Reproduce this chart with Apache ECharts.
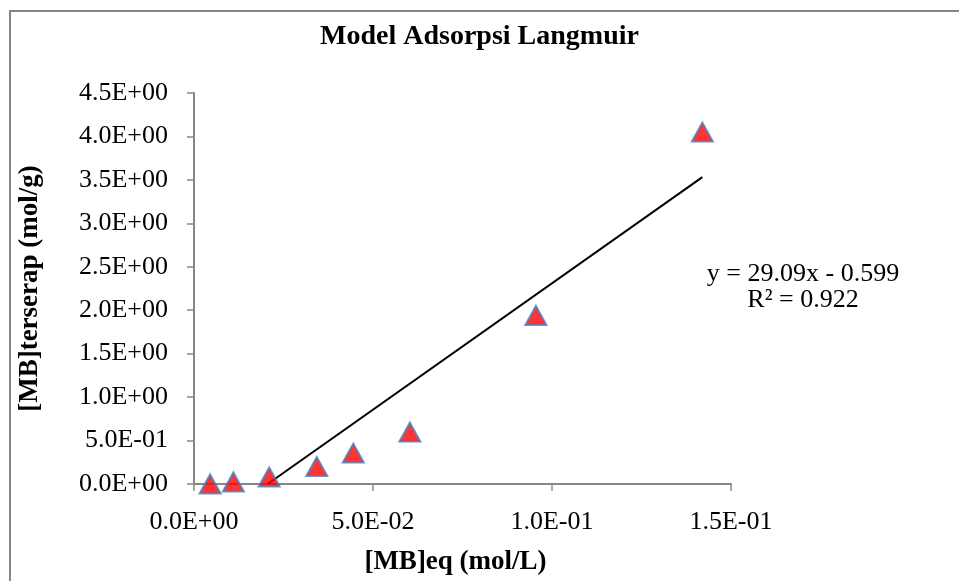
<!DOCTYPE html>
<html>
<head>
<meta charset="utf-8">
<script src="https://cdn.jsdelivr.net/npm/echarts@6/dist/echarts.min.js"></script>
<style>
html,body{margin:0;padding:0;background:#fff;}
#c{width:959px;height:581px;}
</style>
</head>
<body>
<div id="c"></div>
<script>
// Data
var xValues = [0.0045, 0.0110, 0.0210, 0.0343, 0.0445, 0.0603, 0.0955, 0.1420];
var yValues = [0.000, 0.023, 0.080, 0.200, 0.356, 0.597, 1.940, 4.050];
var trendSlope = [29.09];
var trendIntercept = [-0.599];
var equationText = ['y = 29.09x - 0.599', 'R\u00B2 = 0.922'];
var xTicks = [0, 0.05, 0.10, 0.15];
var yTicks = [0, 0.5, 1.0, 1.5, 2.0, 2.5, 3.0, 3.5, 4.0, 4.5];

var FONT = "'Liberation Serif','Times New Roman',serif";

function sci(v) {
  var s = Number(v).toExponential(1);
  var parts = s.split('e');
  var exp = parseInt(parts[1], 10);
  var sign = exp < 0 ? '-' : '+';
  var a = Math.abs(exp);
  return parts[0] + 'E' + sign + (a < 10 ? '0' + a : a);
}

var points = xValues.map(function (x, i) { return [x, yValues[i]]; });
var m = trendSlope[0], b = trendIntercept[0];
var xStart = -b / m;
var xEnd = Math.max.apply(null, xValues);
var trend = [[xStart, m * xStart + b], [xEnd, m * xEnd + b]];

var chart = echarts.init(document.getElementById('c'), null, {renderer: 'canvas'});
chart.setOption({
  backgroundColor: '#ffffff',
  animation: false,
  title: {
    text: 'Model Adsorpsi Langmuir',
    left: 'center',
    top: 18,
    textStyle: {fontFamily: FONT, fontWeight: 'bold', fontSize: 28, color: '#000'}
  },
  grid: {left: 194, top: 93, width: 537, height: 392},
  xAxis: {
    type: 'value',
    min: xTicks[0],
    max: xTicks[xTicks.length - 1],
    interval: xTicks[1] - xTicks[0],
    name: '[MB]eq (mol/L)',
    nameLocation: 'middle',
    nameGap: 65,
    nameTextStyle: {fontFamily: FONT, fontWeight: 'bold', fontSize: 27, color: '#000', padding: [0, 14, 0, 0]},
    axisLine: {show: true, onZero: false, lineStyle: {color: '#868686', width: 2}},
    axisTick: {show: true, length: 7, lineStyle: {color: '#868686', width: 1.5}},
    splitLine: {show: false},
    axisLabel: {
      fontFamily: FONT, fontSize: 26, color: '#000', margin: 25,
      formatter: function (v) { return sci(v); }
    }
  },
  yAxis: {
    type: 'value',
    min: yTicks[0],
    max: yTicks[yTicks.length - 1],
    interval: yTicks[1] - yTicks[0],
    name: '[MB]terserap (mol/g)',
    nameLocation: 'middle',
    nameRotate: 90,
    nameGap: 150,
    nameTextStyle: {fontFamily: FONT, fontWeight: 'bold', fontSize: 27, color: '#000'},
    axisLine: {show: true, lineStyle: {color: '#868686', width: 2}},
    axisTick: {show: true, length: 7, lineStyle: {color: '#868686', width: 1.5}},
    splitLine: {show: false},
    axisLabel: {
      fontFamily: FONT, fontSize: 26, color: '#000', margin: 26,
      formatter: function (v) { return sci(v); }
    }
  },
  series: [
    {
      type: 'line',
      data: trend,
      symbol: 'none',
      lineStyle: {color: '#000', width: 2},
      z: 3
    },
    {
      type: 'scatter',
      data: points,
      symbol: 'triangle',
      symbolSize: [21, 19],
      itemStyle: {color: '#ff0000', borderColor: '#4a7ebb', borderWidth: 2},
      z: 4
    }
  ],
  graphic: [
    {
      type: 'rect',
      shape: {x: 10, y: 11, width: 1100, height: 1000},
      style: {fill: 'none', stroke: '#868686', lineWidth: 2},
      silent: true
    },
    {
      type: 'text',
      x: 803, y: 274,
      style: {text: equationText[0], font: '26px ' + FONT, fill: '#000', textAlign: 'center', textVerticalAlign: 'middle'}
    },
    {
      type: 'text',
      x: 803, y: 300,
      style: {text: equationText[1], font: '26px ' + FONT, fill: '#000', textAlign: 'center', textVerticalAlign: 'middle'}
    }
  ]
});
</script>
</body>
</html>
